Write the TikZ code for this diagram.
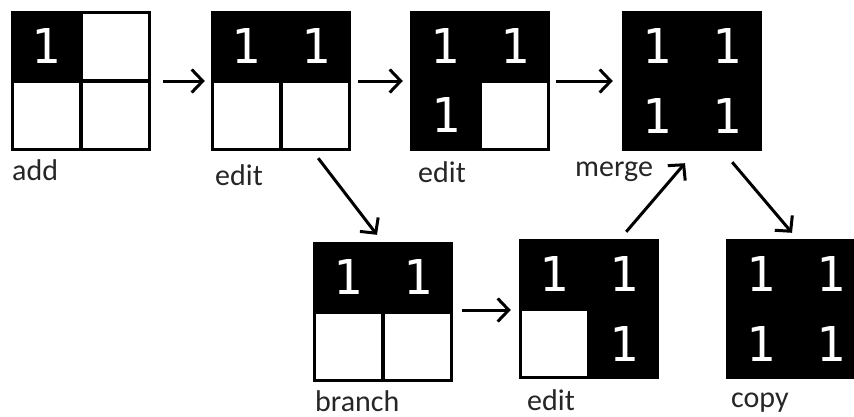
\documentclass[tikz,border=0pt]{standalone}
\usepackage{fontspec}
\setmainfont{Carlito}
\newfontfamily\digitfont{DejaVu Sans Mono}
\usetikzlibrary{arrows.meta}
\tikzset{
  grid box/.style={rectangle, fill=black, minimum size=140pt, inner sep=0pt},
  free cell/.style={rectangle, fill=white, minimum size=65pt, inner sep=0pt},
  digit/.style={text=white, font=\digitfont\fontsize{48}{50}\selectfont, inner sep=0pt},
  caption/.style={anchor=base west, inner sep=0pt, font=\fontsize{30}{36}\selectfont, text=black!85},
  flow/.style={line width=3pt, -{Straight Barb[length=11pt,width=23pt,line width=3pt]}},
}
\begin{document}
\begin{tikzpicture}[x=1pt,y=-1pt]
\useasboundingbox (0,0) rectangle (854,416);

% --- add
\node[grid box] (b1) at (81,81) {};
\node[free cell] (b1c2) at (115.5,46.5) {};
\node[free cell] (b1c3) at (46.5,115.5) {};
\node[free cell] (b1c4) at (115.5,115.5) {};
\node[digit] (b1d1) at (46,46) {1};
\node[caption] (l1) at (12,180) {add};

% --- edit
\node[grid box] (b2) at (281,81) {};
\node[free cell] (b2c3) at (246.5,115.5) {};
\node[free cell] (b2c4) at (315.5,115.5) {};
\node[digit] (b2d1) at (246,46) {1};
\node[digit] (b2d2) at (316,46) {1};
\node[caption] (l2) at (215,185) {edit};

% --- edit
\node[grid box] (b3) at (480,81) {};
\node[free cell] (b3c4) at (514.5,115.5) {};
\node[digit] (b3d1) at (445,46) {1};
\node[digit] (b3d2) at (515,46) {1};
\node[digit] (b3d3) at (446,115) {1};
\node[caption] (l3) at (418,182) {edit};

% --- merge
\node[grid box] (b4) at (692,81) {};
\node[digit] (b4d1) at (657,46) {1};
\node[digit] (b4d2) at (727,46) {1};
\node[digit] (b4d3) at (657,116) {1};
\node[digit] (b4d4) at (727,116) {1};
\node[caption] (l4) at (575,176) {merge};

% --- branch
\node[grid box] (b5) at (383,312) {};
\node[free cell] (b5c3) at (348.5,346.5) {};
\node[free cell] (b5c4) at (417.5,346.5) {};
\node[digit] (b5d1) at (348,277) {1};
\node[digit] (b5d2) at (418,277) {1};
\node[caption] (l5) at (315,411) {branch};

% --- edit on the branch
\node[grid box] (b6) at (589,309) {};
\node[free cell] (b6c3) at (554.5,343.5) {};
\node[digit] (b6d1) at (554,274) {1};
\node[digit] (b6d2) at (624,274) {1};
\node[digit] (b6d4) at (624,344) {1};
\node[caption] (l6) at (527,410) {edit};

% --- copy
\node[grid box] (b7) at (796,309) {};
\node[digit] (b7d1) at (761,274) {1};
\node[digit] (b7d2) at (831,274) {1};
\node[digit] (b7d3) at (761,344) {1};
\node[digit] (b7d4) at (831,344) {1};
\node[caption] (l7) at (731,407) {copy};

% --- history arrows
\draw[flow] ([xshift=12pt]b1.east) -- ([xshift=-6pt]b2.west);
\draw[flow] ([xshift=7pt]b2.east) -- ([xshift=-7pt]b3.west);
\draw[flow] ([xshift=6pt]b3.east) -- ([xshift=-9pt]b4.west);
\draw[flow] ([xshift=-33pt,yshift=-7pt]b2.south east) -- ([xshift=-6pt,yshift=7pt]b5.north);
\draw[flow] ([xshift=9pt,yshift=2pt]b5.east) -- ([xshift=-8pt,yshift=-1pt]b6.west);
\draw[flow] ([xshift=-33pt,yshift=7pt]b6.north east) -- ([xshift=-7pt,yshift=-12pt]b4.south);
\draw[flow] ([xshift=-30pt,yshift=-11pt]b4.south east) -- ([xshift=-4pt,yshift=6pt]b7.north);
\end{tikzpicture}
\end{document}
